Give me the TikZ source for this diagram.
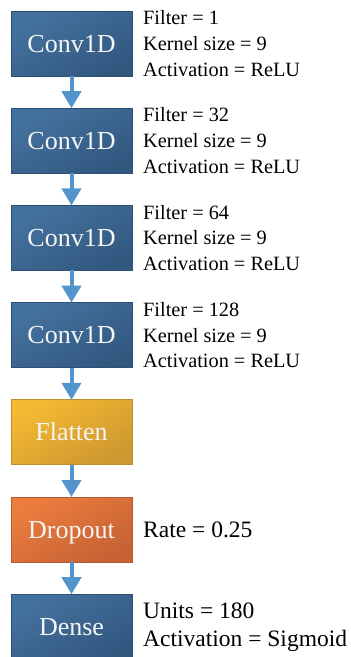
\documentclass[tikz,border=0pt]{standalone}
\usepackage{fontspec}
\setmainfont{Liberation Serif}
\usetikzlibrary{arrows.meta}

\definecolor{convtop}{RGB}{68,114,158}
\definecolor{convbot}{RGB}{50,88,128}
\definecolor{convedge}{RGB}{45,80,115}
\definecolor{flattop}{RGB}{245,185,50}
\definecolor{flatbot}{RGB}{205,152,48}
\definecolor{flatedge}{RGB}{188,142,45}
\definecolor{droptop}{RGB}{236,125,62}
\definecolor{dropbot}{RGB}{198,98,52}
\definecolor{dropedge}{RGB}{178,92,55}
\definecolor{flowblue}{RGB}{84,148,205}
\definecolor{boxtext}{RGB}{245,245,245}

\tikzset{
  layer/.style={rectangle, minimum width=121pt, minimum height=65pt,
    inner sep=0pt, outer sep=0pt, line width=0.8pt,
    text=boxtext, text height=17.2pt, text depth=0pt,
    font=\fontsize{26}{30}\selectfont},
  convlayer/.style={layer, draw=convedge, top color=convtop, bottom color=convbot, shading angle=30},
  flatlayer/.style={layer, draw=flatedge, top color=flattop, bottom color=flatbot, shading angle=30},
  droplayer/.style={layer, draw=dropedge, top color=droptop, bottom color=dropbot, shading angle=30},
  params/.style={anchor=west, align=left, inner sep=0pt, text=black,
    font=\fontsize{20.3}{25.7}\selectfont},
  bigparams/.style={params, font=\fontsize{23.5}{28.3}\selectfont},
  flow/.style={draw=flowblue, line width=4pt,
    -{Triangle[width=19pt,length=17pt]}},
}

\begin{document}
\begin{tikzpicture}[x=1pt,y=1pt]
  \useasboundingbox (0,0) rectangle (351,-657);

  % layer stack
  \node[convlayer] (c1) at (71.5, -43.5) {Conv1D};
  \node[convlayer] (c2) at (71.5,-140.7) {Conv1D};
  \node[convlayer] (c3) at (71.5,-237.9) {Conv1D};
  \node[convlayer] (c4) at (71.5,-335.1) {Conv1D};
  \node[flatlayer] (fl) at (71.5,-432.3) {Flatten};
  \node[droplayer] (dr) at (71.5,-529.5) {Dropout};
  \node[convlayer] (de) at (71.5,-626.7) {Dense};

  % hyper-parameters beside each layer
  \node[params] (p1) at (143, -43.5) {Filter = 1\\Kernel size = 9\\Activation = ReLU};
  \node[params] (p2) at (143,-140.7) {Filter = 32\\Kernel size = 9\\Activation = ReLU};
  \node[params] (p3) at (143,-237.9) {Filter = 64\\Kernel size = 9\\Activation = ReLU};
  \node[params] (p4) at (143,-335.1) {Filter = 128\\Kernel size = 9\\Activation = ReLU};
  \node[bigparams] (pd) at (143,-529.5) {Rate = 0.25};
  \node[bigparams] (pe) at (143,-627.5) {Units = 180\\Activation = Sigmoid};

  % data flow
  \draw[flow] (c1.south) -- (c2.north);
  \draw[flow] (c2.south) -- (c3.north);
  \draw[flow] (c3.south) -- (c4.north);
  \draw[flow] (c4.south) -- (fl.north);
  \draw[flow] (fl.south) -- (dr.north);
  \draw[flow] (dr.south) -- (de.north);
\end{tikzpicture}
\end{document}
